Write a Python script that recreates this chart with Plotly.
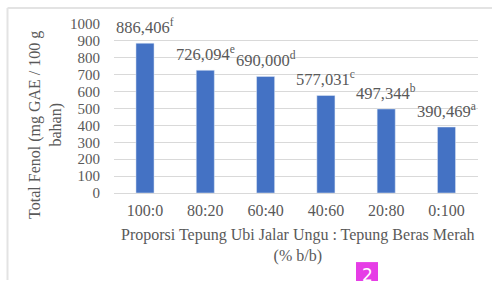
import plotly.graph_objects as go

categories = ["100:0", "80:20", "60:40", "40:60", "20:80", "0:100"]
values = [886.406, 726.094, 690.000, 577.031, 497.344, 390.469]
value_labels = ["886,406", "726,094", "690,000", "577,031", "497,344", "390,469"]
letters = ["f", "e", "d", "c", "b", "a"]
y_ticks = [0, 100, 200, 300, 400, 500, 600, 700, 800, 900, 1000]

FONT = "Liberation Serif"
GRAY = "#595959"

L, R, T, B = 114, 14, 23.5, 87.5
W, H = 492, 281
pw, ph = W - L - R, H - T - B

def px(x):
    return (x - L) / pw

def py(y):
    return (H - B - y) / ph

fig = go.Figure()
fig.add_trace(go.Bar(
    x=categories, y=values, marker_color="#4472c4", width=0.3,
    hoverinfo="skip",
))

for c, v, lab, let in zip(categories, values, value_labels, letters):
    fig.add_annotation(x=c, y=v, text=f"{lab}<sup>{let}</sup>", showarrow=False,
                       yanchor="bottom", yshift=4, font=dict(family=FONT, size=16.5, color=GRAY))

fig.add_annotation(xref="paper", yref="paper", x=px(298), y=py(236),
                   text="Proporsi Tepung Ubi Jalar Ungu : Tepung Beras Merah<br>(% b/b)",
                   showarrow=False, xanchor="center", yanchor="top", yshift=11,
                   font=dict(family=FONT, size=16, color=GRAY))

fig.add_annotation(xref="paper", yref="paper", x=px(46), y=py(125),
                   text="Total Fenol (mg GAE / 100 g<br>bahan)", textangle=-90,
                   showarrow=False, xanchor="center", yanchor="middle",
                   font=dict(family=FONT, size=16, color=GRAY))

# border lines
fig.add_shape(type="line", xref="paper", yref="paper", x0=px(7.5), x1=px(W), y0=py(7.5), y1=py(7.5),
              line=dict(color="#e3e3e3", width=2))
fig.add_shape(type="line", xref="paper", yref="paper", x0=px(7.5), x1=px(7.5), y0=py(7.5), y1=py(H),
              line=dict(color="#e3e3e3", width=2))
# pink badge
fig.add_shape(type="rect", xref="paper", yref="paper", x0=px(356), x1=px(378), y0=py(263), y1=py(283),
              fillcolor="#e63de6", line=dict(width=0), layer="below")
fig.add_annotation(xref="paper", yref="paper", x=px(367), y=py(265), text="2", showarrow=False,
                   xanchor="center", yanchor="top", borderpad=0,
                   font=dict(family="DejaVu Sans", size=17, color="white"))

fig.update_layout(
    width=W, height=H, margin=dict(l=L, r=R, t=T, b=B),
    paper_bgcolor="white", plot_bgcolor="white", showlegend=False,
    bargap=0.7,
)
fig.update_xaxes(showgrid=False, showline=True, linecolor="#d9d9d9", linewidth=1,
                 tickfont=dict(family=FONT, size=16, color=GRAY), ticks="",
                 ticklabelstandoff=3)
fig.update_yaxes(range=[0, 1000], tickvals=y_ticks, showgrid=True, gridcolor="#d9d9d9",
                 zeroline=False, showline=False, ticks="", ticklabelstandoff=13,
                 tickfont=dict(family=FONT, size=15, color=GRAY))

fig.write_html("out.html", config={"displayModeBar": False},
               post_script="document.body.style.margin='0';")
